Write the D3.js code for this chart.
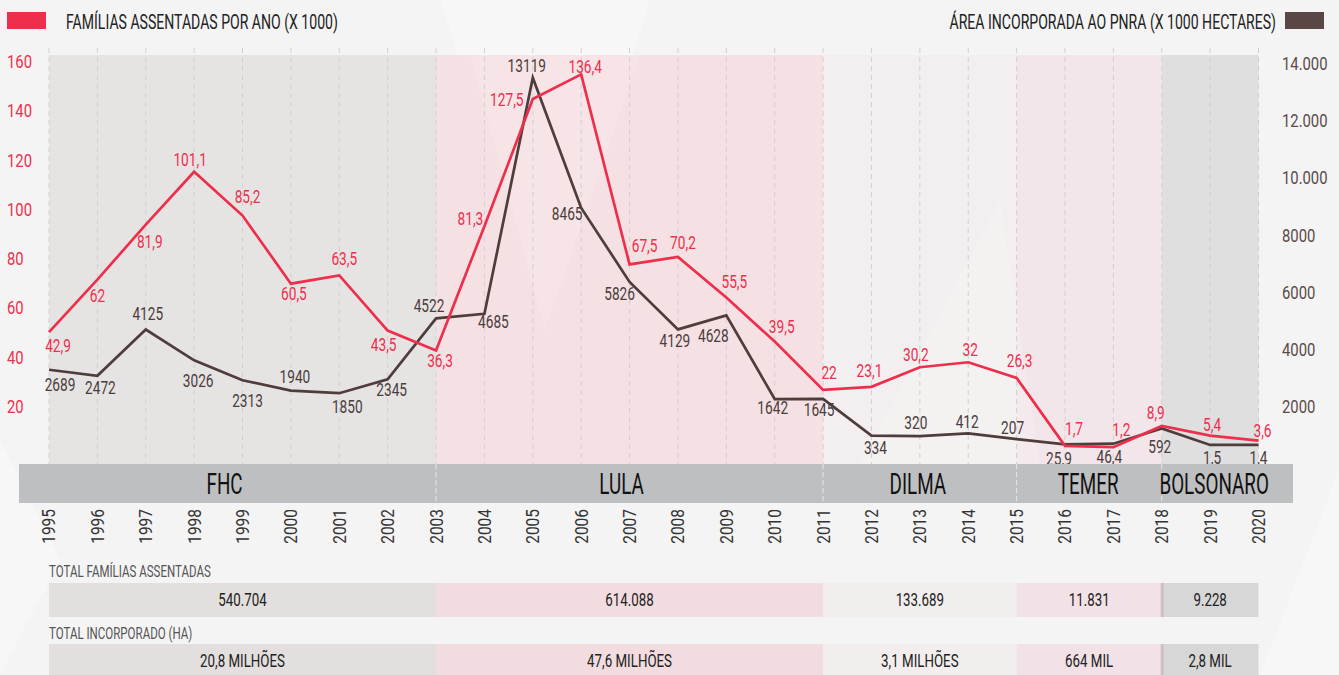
<!DOCTYPE html>
<html>
<head>
<meta charset="utf-8">
<script src="https://cdn.jsdelivr.net/npm/d3@7"></script>
<style>
  body { margin: 0; background: #f4f4f4; }
  svg { display: block; }
  text { font-family: "Roboto", "Noto Sans", sans-serif; }
</style>
</head>
<body>
<svg width="1339" height="675"></svg>
<script>
const years = d3.range(1995, 2021);
const familias = [42.9, 62, 81.9, 101.1, 85.2, 60.5, 63.5, 43.5, 36.3, 81.3, 127.5, 136.4, 67.5, 70.2, 55.5, 39.5, 22, 23.1, 30.2, 32, 26.3, 1.7, 1.2, 8.9, 5.4, 3.6];
const area = [2689, 2472, 4125, 3026, 2313, 1940, 1850, 2345, 4522, 4685, 13119, 8465, 5826, 4129, 4628, 1642, 1645, 334, 320, 412, 207, 25.9, 46.4, 592, 1.5, 1.4];
const familiasLabels = ['42,9','62','81,9','101,1','85,2','60,5','63,5','43,5','36,3','81,3','127,5','136,4','67,5','70,2','55,5','39,5','22','23,1','30,2','32','26,3','1,7','1,2','8,9','5,4','3,6'];
const areaLabels = ['2689','2472','4125','3026','2313','1940','1850','2345','4522','4685','13119','8465','5826','4129','4628','1642','1645','334','320','412','207','25,9','46,4','592','1,5','1,4'];

const periods = ['FHC', 'LULA', 'DILMA', 'TEMER', 'BOLSONARO'];
const periodStart = [1995, 2003, 2011, 2015, 2018];
const periodEnd = [2003, 2011, 2015, 2018, 2020];
const totalFamilias = ['540.704', '614.088', '133.689', '11.831', '9.228'];
const totalArea = ['20,8 MILHÕES', '47,6 MILHÕES', '3,1 MILHÕES', '664 MIL', '2,8 MIL'];

const leftTicks = [20, 40, 60, 80, 100, 120, 140, 160];
const rightTicks = [2000, 4000, 6000, 8000, 10000, 12000, 14000];

// label nudges (dx, dy) from each point
const famNudge = [[9,13],[0,16],[4,17],[-4,-12],[5,-19],[3,10],[5,-17],[-4,14],[4,10],[-14,-8],[-26,1],[4,-8],[15,-19],[5,-14],[8,-16],[7,-15],[6,-17],[-2,-16],[-4,-13],[2,-13],[3,-17],[9,-17],[8,-18],[-6,-13],[2,-11],[4,-10]];
const areaNudge = [[11,15],[3,12],[2,-16],[4,20],[5,20],[4,-14],[8,13],[4,10],[-7,-13],[9,8],[-6,-12],[-14,6],[-10,12],[-3,11],[-13,20],[-2,8],[-4,11],[4,12],[-4,-14],[-1,-12],[-4,-12],[-6,14],[-4,13],[-2,18],[2,13],[0,13]];
const bandNudge = [-3, -8, -2, -1, 4];

const svg = d3.select('svg');
const RED = '#ee2f4c', BROWN = '#4f3d3c';
const panelFill = ['#e6e4e3', '#f5e1e3', '#f3eff0', '#f3e6ea', '#dfdfdf'];
const cellFill = ['#e2dfde', '#f3dcdf', '#f3eeee', '#f2e1e6', '#d7d7d7'];

// condensed look: squeeze text horizontally around its anchor
const squeeze = (sel, s) => sel.each(function () {
  const t = d3.select(this);
  const tx = +t.attr('x') || 0, ty = +t.attr('y') || 0;
  t.attr('x', null).attr('y', null)
    .attr('transform', `translate(${tx},${ty}) scale(${s},1)`);
});

const x = d3.scaleLinear().domain([1995, 2020]).range([49, 1258.5]);
const yFam = d3.scaleLinear().domain([0, 136.4]).range([450.5, 74.4]);
const yArea = d3.scaleLinear().domain([0, 13119]).range([445, 77.7]);
const yLeftAxis = d3.scaleLinear().domain([0, 160]).range([455.5, 61.6]);
const yRightAxis = d3.scaleLinear().domain([0, 14000]).range([464, 63.3]);

// faint background shapes
const bg = svg.append('g').attr('fill', '#ffffff').attr('opacity', 0.3);
bg.append('path').attr('d', 'M440,0 L650,0 L545,330 Z');
bg.append('path').attr('d', 'M0,440 L60,560 L0,675 Z');
bg.append('path').attr('d', 'M1339,470 L1260,675 L1339,675 Z');

// period panels
svg.append('g').selectAll('rect').data(periods).join('rect')
  .attr('x', (d, i) => x(periodStart[i]))
  .attr('y', 55)
  .attr('width', (d, i) => x(periodEnd[i]) - x(periodStart[i]))
  .attr('height', 409)
  .attr('fill', (d, i) => panelFill[i]);

const over = svg.append('g').attr('fill', '#ffffff').attr('opacity', 0.12);
over.append('path').attr('d', 'M470,55 L640,55 L545,330 Z');
over.append('path').attr('d', 'M860,464 L1000,200 L1040,464 Z');

// dashed year lines
svg.append('g').selectAll('line').data(years).join('line')
  .attr('x1', d => x(d)).attr('x2', d => x(d))
  .attr('y1', 48).attr('y2', 464)
  .attr('stroke', '#d3cfd1').attr('stroke-width', 1)
  .attr('stroke-dasharray', '5,4');

// axes labels
const leftAxis = d3.axisLeft(yLeftAxis).tickValues(leftTicks).tickSize(0).tickPadding(0);
const lg = svg.append('g').attr('transform', 'translate(7,0)').call(leftAxis);
lg.select('.domain').remove();
lg.selectAll('text').attr('text-anchor', 'start').attr('fill', RED).style('font-size', '19px');
squeeze(lg.selectAll('text'), 0.78);

const rightAxis = d3.axisRight(yRightAxis).tickValues(rightTicks).tickSize(0).tickPadding(0)
  .tickFormat(d => d >= 10000 ? d3.format(',')(d).replace(',', '.') : String(d));
const rg = svg.append('g').attr('transform', 'translate(1282,0)').call(rightAxis);
rg.select('.domain').remove();
rg.selectAll('text').attr('fill', '#5b4b4a').style('font-size', '19px');
squeeze(rg.selectAll('text'), 0.78);
d3.selectAll('g[font-family]').attr('font-family', null).attr('font-size', null);

// lines
const famLine = d3.line().x((d, i) => x(years[i])).y(d => yFam(d));
const areaLine = d3.line().x((d, i) => x(years[i])).y(d => yArea(d));
svg.append('path').datum(area).attr('d', areaLine)
  .attr('fill', 'none').attr('stroke', BROWN).attr('stroke-width', 2.7);
svg.append('path').datum(familias).attr('d', famLine)
  .attr('fill', 'none').attr('stroke', RED).attr('stroke-width', 2.7);

// value labels
const famText = svg.append('g').selectAll('text').data(familias).join('text')
  .attr('x', (d, i) => x(years[i]) + famNudge[i][0])
  .attr('y', (d, i) => yFam(d) + famNudge[i][1])
  .attr('dy', '0.36em').attr('text-anchor', 'middle')
  .attr('fill', RED).style('font-size', '18px')
  .text((d, i) => familiasLabels[i]);
squeeze(famText, 0.76);
const areaText = svg.append('g').selectAll('text').data(area).join('text')
  .attr('x', (d, i) => x(years[i]) + areaNudge[i][0])
  .attr('y', (d, i) => yArea(d) + areaNudge[i][1])
  .attr('dy', '0.36em').attr('text-anchor', 'middle')
  .attr('fill', '#4a3d3c').style('font-size', '18px')
  .text((d, i) => areaLabels[i]);
squeeze(areaText, 0.76);

// president band
svg.append('rect').attr('x', 19).attr('y', 464).attr('width', 1274).attr('height', 39).attr('fill', '#bebfc1');
svg.append('g').selectAll('line').data(periodStart.slice(1)).join('line')
  .attr('x1', d => x(d)).attr('x2', d => x(d)).attr('y1', 464).attr('y2', 503)
  .attr('stroke', '#e8e8e8').attr('stroke-dasharray', '5,3');
const bandText = svg.append('g').selectAll('text').data(periods).join('text')
  .attr('x', (d, i) => (i === 0 ? (19 + x(periodEnd[i])) / 2 : (x(periodStart[i]) + x(periodEnd[i])) / 2) + bandNudge[i])
  .attr('y', 484).attr('dy', '0.36em').attr('text-anchor', 'middle')
  .attr('fill', '#111').style('font-size', '29px')
  .text(d => d);
squeeze(bandText, 0.65);

// years
svg.append('g').selectAll('text').data(years).join('text')
  .attr('transform', d => `translate(${x(d)},509) rotate(-90) scale(0.86,1)`)
  .attr('dy', '0.36em').attr('text-anchor', 'end')
  .attr('fill', '#333').style('font-size', '18px')
  .text(d => d);

// totals tables
const rows = [
  { title: 'TOTAL FAMÍLIAS ASSENTADAS', values: totalFamilias, ty: 577, y: 583, h: 34 },
  { title: 'TOTAL INCORPORADO (HA)', values: totalArea, ty: 639, y: 644, h: 34 }
];
rows.forEach(r => {
  squeeze(svg.append('text').attr('x', 49).attr('y', r.ty).attr('fill', '#555').style('font-size', '16px').text(r.title), 0.72);
  const g = svg.append('g');
  g.selectAll('rect').data(periods).join('rect')
    .attr('x', (d, i) => x(periodStart[i]))
    .attr('y', r.y)
    .attr('width', (d, i) => x(periodEnd[i]) - x(periodStart[i]))
    .attr('height', r.h)
    .attr('fill', (d, i) => cellFill[i]);
  g.append('rect').attr('x', x(2018) - 1).attr('y', r.y).attr('width', 3).attr('height', r.h).attr('fill', '#cdbfc3');
  const vt = g.selectAll('text').data(r.values).join('text')
    .attr('x', (d, i) => (x(periodStart[i]) + x(periodEnd[i])) / 2)
    .attr('y', r.y + r.h / 2).attr('dy', '0.36em').attr('text-anchor', 'middle')
    .attr('fill', '#222').style('font-size', '18px')
    .text(d => d);
  squeeze(vt, 0.74);
});

// legend
svg.append('rect').attr('x', 7).attr('y', 12).attr('width', 39).attr('height', 17).attr('fill', RED);
squeeze(svg.append('text').attr('x', 66).attr('y', 29).attr('fill', '#222').style('font-size', '21px')
  .text('FAMÍLIAS ASSENTADAS POR ANO (X 1000)'), 0.67);
svg.append('rect').attr('x', 1285).attr('y', 12).attr('width', 39).attr('height', 17).attr('fill', '#5a4644');
squeeze(svg.append('text').attr('x', 1276).attr('y', 29).attr('text-anchor', 'end').attr('fill', '#222').style('font-size', '21px')
  .text('ÁREA INCORPORADA AO PNRA (X 1000 HECTARES)'), 0.67);
</script>
</body>
</html>
